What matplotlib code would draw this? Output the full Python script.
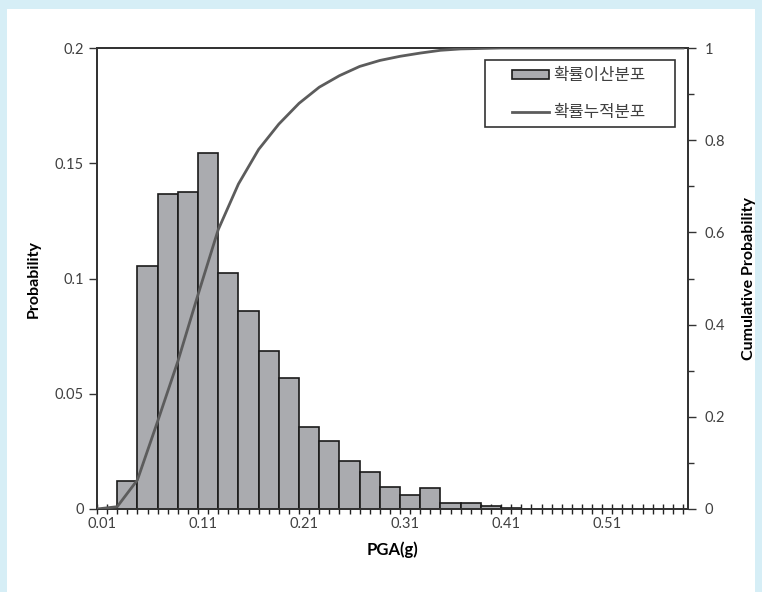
import matplotlib
matplotlib.use("Agg")
import matplotlib.pyplot as plt
from matplotlib.patches import Rectangle
from matplotlib.ticker import FixedLocator

plt.rcParams["font.family"] = ["Lato", "Noto Sans CJK KR", "DejaVu Sans"]

# histogram (probability per 0.02 bin)
bin_centers = [0.035, 0.055, 0.075, 0.095, 0.115, 0.135, 0.155, 0.175, 0.195, 0.215,
               0.235, 0.255, 0.275, 0.295, 0.315, 0.335, 0.355, 0.375, 0.395, 0.415,
               0.435, 0.455, 0.475, 0.495, 0.515, 0.535, 0.555, 0.575]
probability = [0.0122, 0.1056, 0.1366, 0.1377, 0.1544, 0.1026, 0.0861, 0.0687, 0.0567, 0.0355,
               0.0295, 0.0210, 0.0159, 0.0097, 0.0059, 0.0090, 0.0025, 0.0025, 0.0012, 0.0003,
               0.0, 0.0, 0.0, 0.0, 0.0, 0.0, 0.0, 0.0]

# cumulative curve
cum_x = [0.005, 0.025, 0.045, 0.065, 0.085, 0.105, 0.125, 0.145, 0.165, 0.185,
         0.205, 0.225, 0.245, 0.265, 0.285, 0.305, 0.325, 0.345, 0.365, 0.385,
         0.405, 0.425, 0.445, 0.465, 0.485, 0.505, 0.525, 0.545, 0.565, 0.585]
cum_prob = [0.0, 0.005, 0.063, 0.19, 0.32, 0.465, 0.606, 0.705, 0.78, 0.835,
            0.88, 0.915, 0.94, 0.96, 0.973, 0.982, 0.989, 0.995, 0.998, 0.999,
            1.0, 1.0, 1.0, 1.0, 1.0, 1.0, 1.0, 1.0, 1.0, 1.0]

x_labels = [0.01, 0.11, 0.21, 0.31, 0.41, 0.51]
legend_labels = ["확률이산분포", "확률누적분포"]

fig = plt.figure(figsize=(7.62, 5.92), dpi=100, facecolor="#d6eef6")
fig.patches.append(Rectangle((7 / 762, 0), (755 - 7) / 762, 1 - 9 / 592,
                             transform=fig.transFigure, facecolor="white",
                             edgecolor="none", zorder=-10))

ax = fig.add_axes([97 / 762, 1 - 509 / 592, 591 / 762, 461 / 592])
ax.set_facecolor("none")
bars = ax.bar(bin_centers, probability, width=0.02, color="#aaabaf",
              edgecolor="#1a1a1a", linewidth=1.2, zorder=2)
ax.set_xlim(0.005, 0.59)
ax.set_ylim(0, 0.2)
ax.set_yticks([0, 0.05, 0.1, 0.15, 0.2])
ax.set_yticklabels(["0", "0.05", "0.1", "0.15", "0.2"])
ax.set_xticks(x_labels)
ax.set_xticklabels([f"{v:.2f}" for v in x_labels])
ax.xaxis.set_minor_locator(FixedLocator([round(0.005 + 0.01 * i, 3) for i in range(59)]))
ax.tick_params(axis="x", which="major", length=0, pad=6, labelsize=10.5, labelcolor="#404040")
ax.tick_params(axis="x", which="minor", direction="inout", length=7, width=1.0, color="#222222")
ax.tick_params(axis="y", which="major", direction="out", length=6, width=1.0,
               labelsize=10.5, labelcolor="#404040", color="#333333")
for s in ax.spines.values():
    s.set_color("#333333")
    s.set_linewidth(1.3)
ax.set_ylabel("Probability", fontsize=11.5, fontweight="bold", labelpad=10)
ax.set_xlabel("PGA(g)", fontsize=12, fontweight="bold", labelpad=7)

ax2 = ax.twinx()
line, = ax2.plot(cum_x, cum_prob, color="#5c5c5c", linewidth=2.0, zorder=3)
ax2.set_ylim(0, 1)
ax2.set_yticks([0, 0.2, 0.4, 0.6, 0.8, 1.0])
ax2.set_yticklabels(["0", "0.2", "0.4", "0.6", "0.8", "1"])
ax2.yaxis.set_minor_locator(FixedLocator([0.1, 0.3, 0.5, 0.7, 0.9]))
ax2.tick_params(axis="y", which="major", direction="out", length=6, width=1.0,
                labelsize=10.5, labelcolor="#404040", color="#333333", pad=6)
ax2.tick_params(axis="y", which="minor", direction="out", length=4, width=1.0, color="#333333")
for s in ax2.spines.values():
    s.set_color("#333333")
    s.set_linewidth(1.3)
ax2.set_ylabel("Cumulative Probability", fontsize=11.5, fontweight="bold", labelpad=12)

# legend frame drawn separately (wide side padding as in the original)
ax2.add_patch(Rectangle((0.6565, 0.8286), 0.978 - 0.6565, 0.974 - 0.8286,
                        transform=ax2.transAxes, facecolor="white",
                        edgecolor="#333333", linewidth=1.2, zorder=4))
leg = ax2.legend([bars, line], legend_labels, loc="center left",
                 bbox_to_anchor=(0.702, 0.901), fontsize=12, frameon=False,
                 handlelength=2.2, handleheight=0.45, borderpad=0,
                 labelspacing=1.25, handletextpad=0.3, borderaxespad=0,
                 labelcolor="#404040")
leg.set_zorder(5)

fig.savefig("out.png", dpi=100, facecolor=fig.get_facecolor())
